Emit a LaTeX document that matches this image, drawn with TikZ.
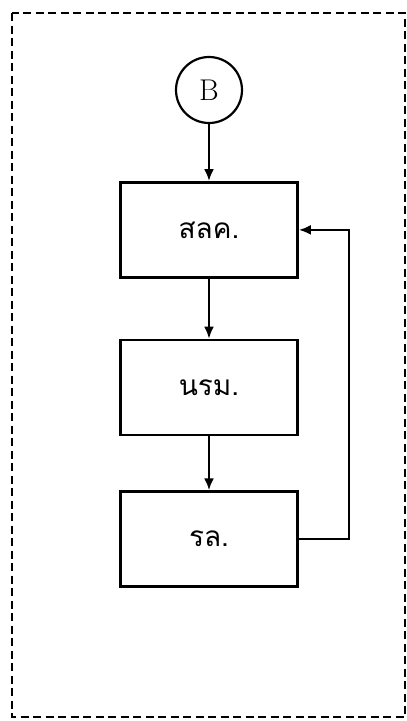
\documentclass[tikz,border=0pt]{standalone}
\usepackage{fontspec}
\newfontfamily\thaifont[Script=Thai]{Loma}
\usetikzlibrary{arrows.meta, positioning}

\begin{document}
\begin{tikzpicture}[
    x=1pt, y=1pt,
    flowbox/.style={
      rectangle, draw, line width=2.6pt,
      minimum width=177pt, minimum height=95pt,
      font=\thaifont\fontsize{28}{32}\selectfont, align=center
    },
    connector/.style={
      circle, draw, line width=2.2pt, minimum size=66pt, inner sep=0pt,
      font=\fontsize{30}{34}\selectfont
    },
    arr/.style={-{Latex[length=12pt, width=10pt]}, line width=2.4pt},
  ]

  % page and dashed frame
  \useasboundingbox (0,0) rectangle (407,-721);
  \draw[line width=2.6pt, dash pattern=on 8pt off 4.5pt] (12,-13) rectangle (405,-717);

  \node[connector] (b) at (209,-90) {B};
  \node[flowbox, below=57pt of b] (s1) {สลค.};
  \node[flowbox, below=60pt of s1] (s2) {นรม.};
  \node[flowbox, below=54pt of s2] (s3) {รล.};

  \draw[arr] (b) -- (s1);
  \draw[arr] (s1) -- (s2);
  \draw[arr] (s2) -- (s3);
  \draw[arr] (s3.east) -- ++(50pt,0) |- (s1.east);
\end{tikzpicture}
\end{document}
